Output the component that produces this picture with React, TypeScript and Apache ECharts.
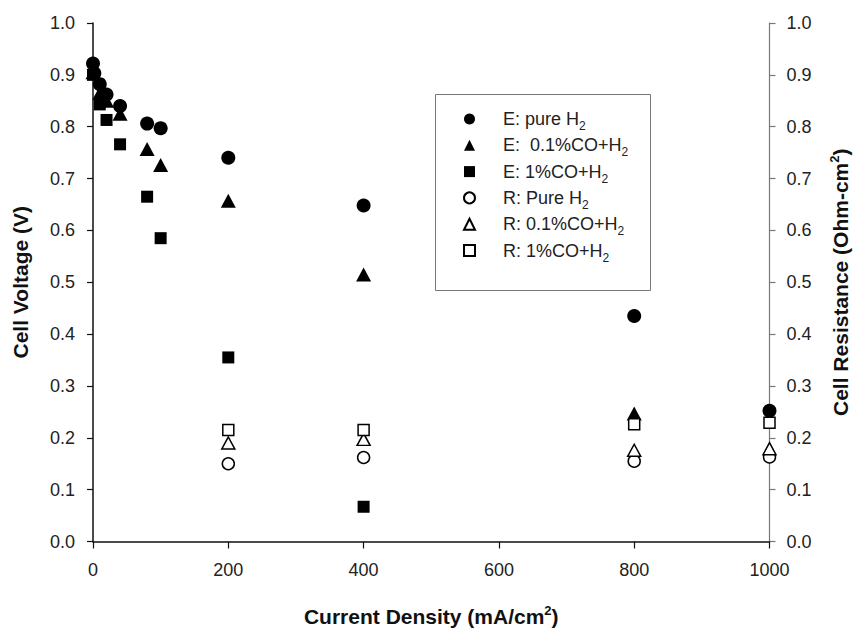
import React, { useEffect, useRef } from 'react';
import * as echarts from 'echarts';

const FONT = "'Liberation Sans', Arial, Helvetica, sans-serif";

// Current density (mA/cm2) and cell voltage (V) — E series
const currentPureE = [0, 2, 10, 20, 40, 80, 100, 200, 400, 800, 1000];
const voltagePureE = [0.922, 0.903, 0.882, 0.862, 0.84, 0.806, 0.797, 0.74, 0.648, 0.435, 0.252];

const currentCO01E = [0, 10, 20, 40, 80, 100, 200, 400, 800];
const voltageCO01E = [0.905, 0.865, 0.85, 0.825, 0.757, 0.726, 0.657, 0.515, 0.247];

const currentCO1E = [0, 10, 20, 40, 80, 100, 200, 400];
const voltageCO1E = [0.9, 0.843, 0.813, 0.766, 0.665, 0.585, 0.355, 0.067];

// Cell resistance (Ohm-cm2) — R series
const currentR = [200, 400, 800, 1000];
const resistPureR = [0.15, 0.162, 0.155, 0.163];
const resistCO01R = [0.19, 0.197, 0.176, 0.179];
const resistCO1R = [0.215, 0.215, 0.226, 0.229];

const xTicks = { min: 0, max: 1000, interval: 200 };
const yTicks = { min: 0, max: 1, interval: 0.1 };

const seriesNames = [
  'E: pure H2',
  'E:  0.1%CO+H2',
  'E: 1%CO+H2',
  'R: Pure H2',
  'R: 0.1%CO+H2',
  'R: 1%CO+H2',
];

const zip = (xs: number[], ys: number[]) => xs.map((x, i) => [x, ys[i]]);

const filled = { color: '#000', opacity: 1 };
const open = { color: '#fff', borderColor: '#000', borderWidth: 1.5, opacity: 1 };

function buildOption() {
  const axisLabel = {
    fontSize: 18,
    color: '#222',
    fontFamily: FONT,
  };
  return {
    animation: false,
    backgroundColor: '#fff',
    textStyle: { fontFamily: FONT },
    grid: { left: 92, right: 83, top: 23, bottom: 82, containLabel: false },
    xAxis: {
      type: 'value',
      ...xTicks,
      name: 'Current Density (mA/cm{sup|2})',
      nameLocation: 'middle',
      nameGap: 63,
      nameTextStyle: {
        fontSize: 21,
        fontWeight: 'bold',
        color: '#111',
        fontFamily: FONT,
        lineHeight: 24,
        rich: {
          sup: { fontSize: 13, fontWeight: 'bold', color: '#111', fontFamily: FONT, padding: [0, 0, 12, 0], lineHeight: 24 },
        },
      },
      axisLine: { show: true, onZero: false, lineStyle: { color: '#111', width: 1.5 } },
      axisTick: { show: true, inside: false, length: 7, lineStyle: { color: '#111', width: 1.2 } },
      axisLabel: { ...axisLabel, margin: 19, formatter: (v: number) => String(v) },
      splitLine: { show: false },
    },
    yAxis: [
      {
        type: 'value',
        ...yTicks,
        position: 'left',
        name: 'Cell Voltage (V)',
        nameLocation: 'middle',
        nameGap: 61,
        nameTextStyle: { fontSize: 21, fontWeight: 'bold', color: '#111', fontFamily: FONT, lineHeight: 24 },
        axisLine: { show: true, onZero: false, lineStyle: { color: '#111', width: 1.5 } },
        axisTick: { show: true, inside: false, length: 6, lineStyle: { color: '#111', width: 1.2 } },
        axisLabel: { ...axisLabel, margin: 18, formatter: (v: number) => v.toFixed(1) },
        splitLine: { show: false },
      },
      {
        type: 'value',
        ...yTicks,
        position: 'right',
        name: 'Cell Resistance (Ohm-cm{sup|2})',
        nameLocation: 'middle',
        nameGap: 59,
        nameTextStyle: {
          fontSize: 21,
          fontWeight: 'bold',
          color: '#111',
          fontFamily: FONT,
          lineHeight: 24,
          rich: {
            sup: { fontSize: 13, fontWeight: 'bold', color: '#111', fontFamily: FONT, padding: [0, 0, 12, 0], lineHeight: 24 },
          },
        },
        axisLine: { show: true, onZero: false, lineStyle: { color: '#777', width: 1.2 } },
        axisTick: { show: true, inside: false, length: 6, lineStyle: { color: '#777', width: 1.2 } },
        axisLabel: { ...axisLabel, margin: 17, formatter: (v: number) => v.toFixed(1) },
        splitLine: { show: false },
      },
    ],
    legend: {
      orient: 'vertical',
      left: 463,
      top: 106,
      padding: 0,
      itemWidth: 11,
      itemHeight: 11,
      itemGap: 0.3,
      selectedMode: false,
      data: seriesNames,
      formatter: (name: string) => name.replace(/H2$/, 'H{sub|2}'),
      textStyle: {
        fontSize: 18,
        color: '#222',
        fontFamily: FONT,
        lineHeight: 26,
        padding: [0, 0, 0, 23],
        rich: {
          sub: { fontSize: 12, color: '#222', fontFamily: FONT, padding: [14, 0, 0, 0], lineHeight: 26 },
        },
      },
    },
    graphic: [
      {
        type: 'rect',
        left: 433,
        top: 92,
        shape: { x: 0, y: 0, width: 215, height: 196 },
        style: { fill: 'none', stroke: '#777', lineWidth: 1 },
        silent: true,
      },
    ],
    series: [
      { type: 'scatter', name: seriesNames[0], yAxisIndex: 0, symbol: 'circle', symbolSize: 14, itemStyle: filled, data: zip(currentPureE, voltagePureE) },
      { type: 'scatter', name: seriesNames[1], yAxisIndex: 0, symbol: 'triangle', symbolSize: [15, 14], itemStyle: filled, data: zip(currentCO01E, voltageCO01E) },
      { type: 'scatter', name: seriesNames[2], yAxisIndex: 0, symbol: 'rect', symbolSize: 12, itemStyle: filled, data: zip(currentCO1E, voltageCO1E) },
      { type: 'scatter', name: seriesNames[3], yAxisIndex: 1, symbol: 'circle', symbolSize: 12, itemStyle: open, data: zip(currentR, resistPureR) },
      { type: 'scatter', name: seriesNames[4], yAxisIndex: 1, symbol: 'triangle', symbolSize: [13, 12], itemStyle: open, data: zip(currentR, resistCO01R) },
      { type: 'scatter', name: seriesNames[5], yAxisIndex: 1, symbol: 'rect', symbolSize: 11, itemStyle: open, data: zip(currentR, resistCO1R) },
    ],
  };
}

export default function App() {
  const ref = useRef<HTMLDivElement>(null);
  useEffect(() => {
    if (!ref.current) return;
    const chart = echarts.init(ref.current, null, { renderer: 'svg' });
    chart.setOption(buildOption() as any);
    return () => chart.dispose();
  }, []);
  return (
    <div
      ref={ref}
      style={{ position: 'fixed', left: 0, top: 0, width: 861, height: 634, background: '#fff' }}
    />
  );
}
